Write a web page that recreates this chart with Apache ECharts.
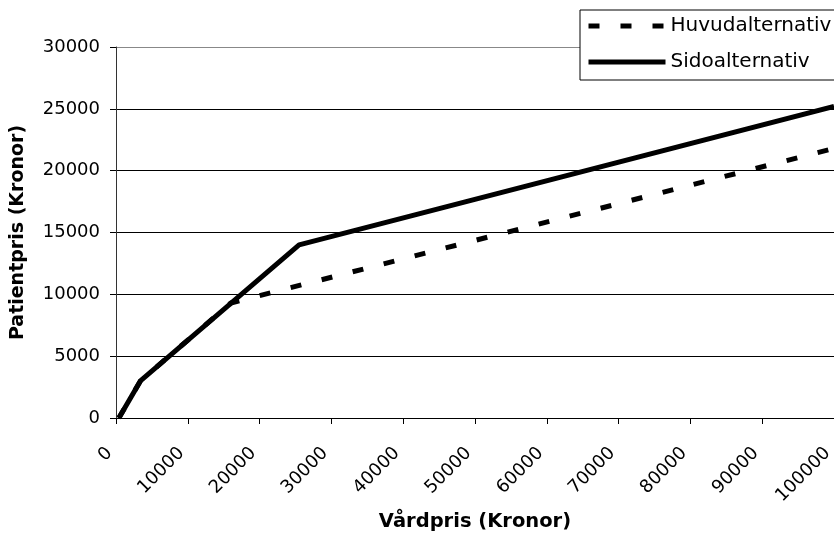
<!DOCTYPE html>
<html><head><meta charset="utf-8">
<script src="https://cdn.jsdelivr.net/npm/echarts@6/dist/echarts.min.js"></script>
<style>html,body{margin:0;padding:0;background:#fff}#c{width:834px;height:541px}</style>
</head><body><div id="c"></div>
<script>
// Data
const seriesNames = ['Huvudalternativ', 'Sidoalternativ'];
const huvudX = [400, 3400, 16000, 100000];
const huvudY = [0, 3000, 9300, 21800];
const sidoX = [400, 3400, 25500, 100000];
const sidoY = [0, 3000, 14000, 25200];
const xAxisName = 'Vårdpris (Kronor)';
const yAxisName = 'Patientpris (Kronor)';
const xMin = 0, xMax = 100000, xStep = 10000;
const yMin = 0, yMax = 30000, yStep = 5000;

const pairs = (xs, ys) => xs.map((x, i) => [x, ys[i]]);
const FONT = 'DejaVu Sans';

const chart = echarts.init(document.getElementById('c'), null, {renderer: 'canvas'});
chart.setOption({
  animation: false,
  backgroundColor: '#fff',
  textStyle: {fontFamily: FONT, color: '#000'},
  grid: {left: 116, right: 0, top: 47, bottom: 123, containLabel: false, outerBoundsMode: 'none'},
  legend: {
    orient: 'vertical', left: 580, top: 10,
    data: seriesNames,
    backgroundColor: '#fff',
    borderColor: '#000', borderWidth: 1,
    padding: [6, 8, 8, 6],
    itemWidth: 77, itemHeight: 20, itemGap: 16,
    itemStyle: {opacity: 0},
    lineStyle: {width: 5},
    textStyle: {fontFamily: FONT, fontSize: 20, color: '#000'}
  },
  xAxis: {
    type: 'value', min: xMin, max: xMax, interval: xStep,
    name: xAxisName, nameLocation: 'middle', nameGap: 92,
    nameTextStyle: {fontFamily: FONT, fontSize: 19.5, fontWeight: 'bold', color: '#000'},
    axisLine: {show: true, lineStyle: {color: '#000', width: 1}},
    axisTick: {show: true, length: 6, lineStyle: {color: '#000'}},
    axisLabel: {rotate: 45, margin: 26, padding: [0, 9, 0, 0], fontFamily: FONT, fontSize: 18, color: '#000',
      formatter: v => String(v), hideOverlap: false},
    splitLine: {show: false}
  },
  yAxis: {
    type: 'value', min: yMin, max: yMax, interval: yStep,
    name: yAxisName, nameLocation: 'middle', nameGap: 88,
    nameTextStyle: {fontFamily: FONT, fontSize: 19, fontWeight: 'bold', color: '#000'},
    axisLine: {show: true, lineStyle: {color: '#333', width: 1}},
    axisTick: {show: true, length: 6, lineStyle: {color: '#000'}},
    axisLabel: {margin: 16, fontFamily: FONT, fontSize: 18, color: '#000', formatter: v => String(v)},
    splitLine: {show: true, lineStyle: {color: ['#000','#000','#000','#000','#000','#000','#888'], width: 1}}
  },
  series: [
    {
      name: seriesNames[0], type: 'line', symbol: 'none', z: 2,
      data: pairs(huvudX, huvudY),
      lineStyle: {color: '#000', width: 5, type: [11, 21], cap: 'butt'},
      itemStyle: {color: '#000'}
    },
    {
      name: seriesNames[1], type: 'line', symbol: 'none', z: 3,
      data: pairs(sidoX, sidoY),
      lineStyle: {color: '#000', width: 5, type: 'solid'},
      itemStyle: {color: '#000'}
    }
  ]
});
</script></body></html>
